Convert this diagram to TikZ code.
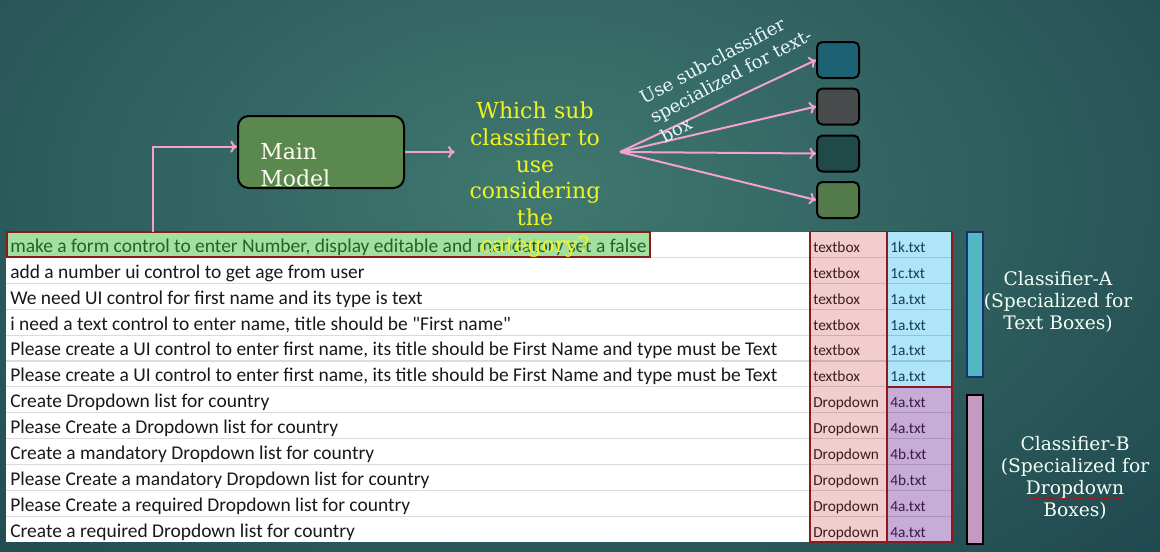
\documentclass[tikz,border=0pt]{standalone}
\usepackage{fontspec}
\setmainfont{DejaVu Serif}
\newfontfamily\calibri{Carlito}
\usetikzlibrary{arrows.meta,decorations.pathmorphing}

\definecolor{bgin}{HTML}{40786F}
\definecolor{bgout}{HTML}{123543}
\definecolor{linkpink}{HTML}{F2A2CC}
\definecolor{cellred}{HTML}{8B1A1A}
\definecolor{typepink}{HTML}{F2CDCD}
\definecolor{fileblue}{HTML}{AEE5F8}
\definecolor{filepurple}{HTML}{C8ACD8}
\definecolor{rowgreen}{HTML}{A2E0A0}
\definecolor{reqgreen}{HTML}{25602A}
\definecolor{kindtext}{HTML}{3C1C1C}
\definecolor{bluetext}{HTML}{1A3A5A}
\definecolor{purpletext}{HTML}{3A1A4A}
\definecolor{modelgreen}{HTML}{5B884F}
\definecolor{askyellow}{HTML}{F4F41C}
\definecolor{bara}{HTML}{52B8C2}
\definecolor{baraedge}{HTML}{1A3070}
\definecolor{barb}{HTML}{C49AC2}
\definecolor{subone}{HTML}{1D6272}
\definecolor{subtwo}{HTML}{474B4B}
\definecolor{subthree}{HTML}{1F4A48}
\definecolor{subfour}{HTML}{527A4A}

\begin{document}
\begin{tikzpicture}[x = 0.75pt, y = -0.75pt,
  req/.style = {anchor = base west, inner sep = 0pt, text = black!90,
    font = \calibri\fontsize{14.6}{17}\selectfont},
  kind/.style = {anchor = base west, inner sep = 0pt, text = kindtext,
    font = \calibri\fontsize{11.5}{13}\selectfont},
  fname/.style = {kind, text = bluetext},
  link/.style = {draw = linkpink, line width = 1.5pt, -{To[length = 5pt, width = 9pt]}},
  sub/.style = {draw = black, line width = 1.5pt, rounded corners = 4pt,
    minimum width = 31.5pt, minimum height = 27pt},
  cell/.style = {draw = cellred, line width = 1.4pt},
  sepline/.style = {draw = black, draw opacity = 0.14, line width = 0.8pt},
  bar/.style = {line width = 1.5pt},
  note/.style = {anchor = north, inner sep = 0pt, align = center, text = white!96!green,
    font = \fontsize{14}{16.5}\selectfont}]
\useasboundingbox (0, 0) rectangle (1160, 551);
\begin{scope}
\clip (0, 0) rectangle (1160, 551);
\shade[inner color = bgin, outer color = bgout] (-660, -570) rectangle (1740, 950);
\end{scope}

% table
\fill[white] (6, 231.5) rectangle (810, 542.3);
\fill[typepink] (810, 231.5) rectangle (887, 542.3);
\fill[fileblue] (887, 231.5) rectangle (952, 386.9);
\fill[filepurple] (887, 386.9) rectangle (952, 542.3);
\draw[sepline] (6, 257.4) -- (952, 257.4) (6, 283.3) -- (952, 283.3)
  (6, 309.2) -- (952, 309.2) (6, 335.1) -- (952, 335.1)
  (6, 361.0) -- (952, 361.0) (6, 386.9) -- (952, 386.9)
  (6, 412.8) -- (952, 412.8) (6, 438.7) -- (952, 438.7)
  (6, 464.6) -- (952, 464.6) (6, 490.5) -- (952, 490.5)
  (6, 516.4) -- (952, 516.4);
\draw[cell, fill = rowgreen] (7, 232.3) rectangle (650, 256.8);
\draw[cell] (810, 231.5) rectangle (887, 542.3);
\draw[cell] (887, 231.5) rectangle (952, 386.9);
\draw[cell] (887, 386.9) rectangle (952, 542.3);

\node[req, text = reqgreen] (req1) at (10, 252.3){make a form control to enter Number, display editable and mandatory set a false};
\node[req] (req2) at (10, 278.2){add a number ui control to get age from user};
\node[req] (req3) at (10, 304.1){We need UI control for first name and its type is text};
\node[req] (req4) at (10, 330.0){i need a text control to enter name, title should be "First name"};
\node[req] (req5) at (10, 355.9){Please create a UI control to enter first name, its title should be First Name and type must be Text};
\node[req] (req6) at (10, 381.8){Please create a UI control to enter first name, its title should be First Name and type must be Text};
\node[req] (req7) at (10, 407.7){Create Dropdown list for country};
\node[req] (req8) at (10, 433.6){Please Create a Dropdown list for country};
\node[req] (req9) at (10, 459.5){Create a mandatory Dropdown list for country};
\node[req] (req10) at (10, 485.4){Please Create a mandatory Dropdown list for country};
\node[req] (req11) at (10, 511.3){Please Create a required Dropdown list for country};
\node[req] (req12) at (10, 537.2){Create a required Dropdown list for country};

\node[kind] (type1) at (813, 252.3){textbox};
\node[kind] (type2) at (813, 278.2){textbox};
\node[kind] (type3) at (813, 304.1){textbox};
\node[kind] (type4) at (813, 330.0){textbox};
\node[kind] (type5) at (813, 355.9){textbox};
\node[kind] (type6) at (813, 381.8){textbox};
\node[kind] (type7) at (813, 407.7){Dropdown};
\node[kind] (type8) at (813, 433.6){Dropdown};
\node[kind] (type9) at (813, 459.5){Dropdown};
\node[kind] (type10) at (813, 485.4){Dropdown};
\node[kind] (type11) at (813, 511.3){Dropdown};
\node[kind] (type12) at (813, 537.2){Dropdown};

\node[fname] (file1) at (890, 252.3){1k.txt};
\node[fname] (file2) at (890, 278.2){1c.txt};
\node[fname] (file3) at (890, 304.1){1a.txt};
\node[fname] (file4) at (890, 330.0){1a.txt};
\node[fname] (file5) at (890, 355.9){1a.txt};
\node[fname] (file6) at (890, 381.8){1a.txt};
\node[fname, text = purpletext] (file7) at (890, 407.7){4a.txt};
\node[fname, text = purpletext] (file8) at (890, 433.6){4a.txt};
\node[fname, text = purpletext] (file9) at (890, 459.5){4b.txt};
\node[fname, text = purpletext] (file10) at (890, 485.4){4b.txt};
\node[fname, text = purpletext] (file11) at (890, 511.3){4a.txt};
\node[fname, text = purpletext] (file12) at (890, 537.2){4a.txt};

% classifier bars
\draw[bar, draw = baraedge, fill = bara] (967, 231.5) rectangle (982.5, 377.3);
\draw[bar, draw = black, fill = barb] (967, 394.5) rectangle (982.5, 543.5);
\node[note] (clsA) at (1058, 270.8){Classifier-A\\(Specialized for\\Text Boxes)};
\node[note] (clsB) at (1075, 435.8){Classifier-B\\(Specialized for\\Dropdown\\Boxes)};
\draw[red!85!black, line width = 0.5pt, decorate, decoration = {snake, amplitude = 1pt, segment length = 3.5pt}]
  (1027, 498.5) -- (1122, 498.5);

% model and routing
\node[draw = black, line width = 1.5pt, fill = modelgreen, rounded corners = 8pt,
  minimum width = 124.5pt, minimum height = 54pt] (model) at (321, 152){};
\node[anchor = north west, inner sep = 0pt, align = left, text = white!95!yellow,
  font = \fontsize{16.5}{20}\selectfont] (modeltxt) at (260, 143.3){Main\\Model};
\node[anchor = north, inner sep = 0pt, text width = 120pt, align = center, text = askyellow,
  font = \fontsize{16.5}{20}\selectfont] (ask) at (535, 102){Which sub\\classifier to\\use\\considering\\the\\category?};
\coordinate (up) at (153, 231.5);
\draw[link] (up) |- ([yshift = 4pt]model.west);
\draw[link] (model.east) -- (model.east -| ask.west);

\node[sub, fill = subone] (sub1) at (838, 60){};
\node[sub, fill = subtwo] (sub2) at (838, 106.5){};
\node[sub, fill = subthree] (sub3) at (838, 153.5){};
\node[sub, fill = subfour] (sub4) at (838, 200){};
\coordinate (fan) at (620, 152);
\draw[link] (fan) -- (sub1.west);
\draw[link] (fan) -- (sub2.west);
\draw[link] (fan) -- (sub3.west);
\draw[link] (fan) -- (sub4.west);
\node[rotate = 28, inner sep = 0pt, align = left, text = white!92!cyan,
  font = \fontsize{13.5}{16.5}\selectfont] (usesub) at (730.8, 75.7){Use sub-classifier\\specialized for text-\\box};
\end{tikzpicture}
\end{document}
